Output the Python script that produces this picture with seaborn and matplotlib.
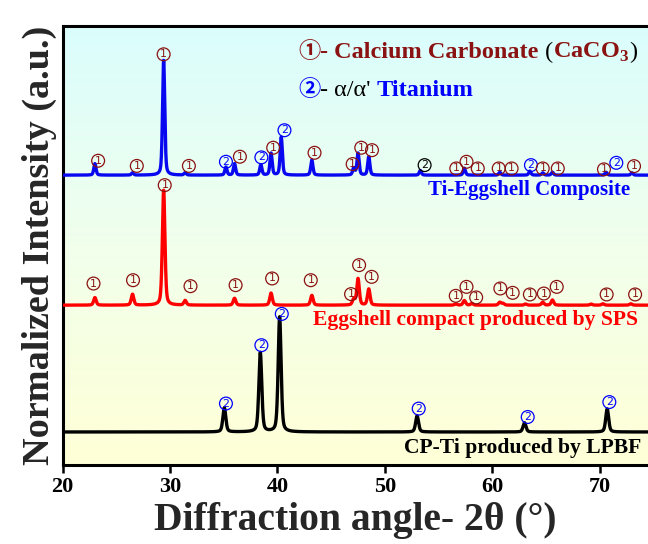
import numpy as np
import pandas as pd
import matplotlib
matplotlib.use("Agg")
import matplotlib.pyplot as plt
import seaborn as sns
from matplotlib.colors import LinearSegmentedColormap
from matplotlib.offsetbox import TextArea, HPacker, AnnotationBbox

# ---------------- data ----------------
# peak lists: 2theta position, normalized intensity (max = 1)
ti_pos = [35.05, 38.4, 40.2, 53.0, 63.0, 70.7]
ti_int = [0.21, 0.69, 1.00, 0.14, 0.08, 0.20]
ti_fwhm = 0.32

egg_pos = [23.0, 26.5, 29.4, 31.4, 36.0, 39.4, 43.2, 47.1, 47.5, 48.5, 56.6, 57.4,
           58.1, 60.7, 61.0, 63.1, 64.7, 65.6, 69.2, 70.3, 72.9]
egg_int = [0.066, 0.095, 1.00, 0.04, 0.06, 0.105, 0.085, 0.05, 0.23, 0.14, 0.01, 0.04,
           0.015, 0.025, 0.015, 0.01, 0.025, 0.045, 0.01, 0.012, 0.012]
egg_fwhm = 0.28

comp_pos = [23.0, 26.5, 29.4, 31.4, 35.2, 36.0, 38.45, 39.4, 40.35, 43.2, 47.1, 47.5,
            48.5, 53.3, 57.4, 60.7, 63.5, 64.7, 65.6, 70.6, 73.0]
comp_int = [0.10, 0.02, 1.00, 0.02, 0.07, 0.10, 0.09, 0.19, 0.33, 0.13, 0.06, 0.19,
            0.16, 0.04, 0.06, 0.025, 0.035, 0.02, 0.025, 0.025, 0.02]
comp_fwhm = 0.24

sample_names = ["CP-Ti produced by LPBF", "Eggshell compact produced by SPS",
                "Ti-Eggshell Composite"]
offsets = [0.0, 1.102, 2.232]

# phase markers: (2theta, height above baseline, phase, colour key)
ti_marks = [(35.2, 0.247, "2", "b"), (38.5, 0.754, "2", "b"), (40.4, 1.026, "2", "b"),
            (53.15, 0.203, "2", "b"), (63.3, 0.13, "2", "b"), (70.9, 0.26, "2", "b")]
egg_marks = [(22.87, 0.188, "1", "r"), (26.55, 0.217, "1", "r"), (29.5, 1.043, "1", "r"),
             (31.9, 0.165, "1", "r"), (36.1, 0.174, "1", "r"), (39.5, 0.232, "1", "r"),
             (43.1, 0.217, "1", "r"), (46.85, 0.096, "1", "r"), (47.6, 0.348, "1", "r"),
             (48.77, 0.246, "1", "r"), (56.6, 0.081, "1", "r"), (57.6, 0.159, "1", "r"),
             (58.5, 0.067, "1", "r"), (60.75, 0.145, "1", "r"), (61.9, 0.107, "1", "r"),
             (63.5, 0.093, "1", "r"), (64.8, 0.101, "1", "r"), (66.0, 0.159, "1", "r"),
             (70.65, 0.093, "1", "r"), (73.3, 0.093, "1", "r")]
comp_marks = [(23.3, 0.125, "1", "r"), (26.9, 0.08, "1", "r"), (29.4, 1.05, "1", "r"),
              (31.75, 0.08, "1", "r"), (35.2, 0.116, "2", "b"), (36.5, 0.16, "1", "r"),
              (38.5, 0.154, "2", "b"), (39.6, 0.238, "1", "r"), (40.65, 0.39, "2", "b"),
              (43.45, 0.194, "1", "r"), (47.0, 0.096, "1", "r"), (47.8, 0.238, "1", "r"),
              (48.8, 0.217, "1", "r"), (53.7, 0.087, "2", "k"), (56.65, 0.058, "1", "r"),
              (57.6, 0.116, "1", "r"), (58.65, 0.058, "1", "r"), (60.6, 0.058, "1", "r"),
              (61.8, 0.058, "1", "r"), (63.6, 0.087, "2", "b"), (64.7, 0.058, "1", "r"),
              (66.1, 0.058, "1", "r"), (70.4, 0.05, "1", "r"), (71.55, 0.107, "2", "b"),
              (73.2, 0.078, "1", "r")]

x_ticks = [20, 30, 40, 50, 60, 70]

# ---------------- build profiles ----------------
two_theta = np.linspace(20, 75, 4000)


def profile(pos, inten, fwhm):
    y = np.zeros_like(two_theta)
    for p, h in zip(pos, inten):
        g = np.exp(-4 * np.log(2) * ((two_theta - p) / fwhm) ** 2)
        l = 1.0 / (1.0 + ((two_theta - p) / (fwhm / 2)) ** 2)
        y += h * (0.6 * g + 0.4 * l)
    return y


frames = []
for name, off, (pos, inten, w) in zip(
        sample_names, offsets,
        [(ti_pos, ti_int, ti_fwhm), (egg_pos, egg_int, egg_fwhm), (comp_pos, comp_int, comp_fwhm)]):
    frames.append(pd.DataFrame({"2theta": two_theta,
                                "intensity": profile(pos, inten, w) + off,
                                "sample": name}))
df = pd.concat(frames, ignore_index=True)

# ---------------- styling ----------------
sns.set_theme(style="ticks")
plt.rcParams["font.family"] = ["Liberation Serif", "DejaVu Serif"]
plt.rcParams["mathtext.fontset"] = "custom"
plt.rcParams["mathtext.rm"] = "Liberation Serif"
plt.rcParams["mathtext.bf"] = "Liberation Serif:bold"

DARKRED = "#8B1212"
BLUE = "#0000FF"
line_colors = {sample_names[0]: "black", sample_names[1]: "#FF0000", sample_names[2]: "#0808F0"}
mark_colors = {"r": DARKRED, "b": BLUE, "k": "black"}

W, H = 648, 544
fig = plt.figure(figsize=(W / 100, H / 100), dpi=100)
left_px, top_px, bot_px = 62.7, 26, 465
ax = fig.add_axes([left_px / W, (H - bot_px) / H, (W - left_px) / W, (bot_px - top_px) / H])

ylim = (-0.287, 3.528)
xlim = (20, 74.5)

# gradient background
cmap = LinearSegmentedColormap.from_list("bg", ["#FFFFD6", "#F1FFEC", "#DAFDFD"])
ax.imshow(np.linspace(0, 1, 256).reshape(-1, 1), cmap=cmap, aspect="auto",
          extent=[xlim[0], xlim[1], ylim[0], ylim[1]], origin="lower", zorder=0)

sns.lineplot(data=df, x="2theta", y="intensity", hue="sample", palette=line_colors,
             linewidth=2.4, legend=False, ax=ax, zorder=3, estimator=None, sort=False)

for marks, off in zip([ti_marks, egg_marks, comp_marks], offsets):
    for x, y, lab, ck in marks:
        c = mark_colors[ck]
        ax.text(x, off + y, lab, ha="center", va="center", fontsize=7.8,
                family="DejaVu Sans", color=c, zorder=5,
                bbox=dict(boxstyle="circle,pad=0.13", fc="none", ec=c, lw=0.9))

# sample labels
ax.text(63.4, offsets[2] - 0.13, sample_names[2], color=BLUE, fontsize=15,
        fontweight="bold", ha="center", va="center", zorder=6)
ax.text(43.35, offsets[1] - 0.13, sample_names[1], color="#FF0000", fontsize=15.6,
        fontweight="bold", ha="left", va="center", zorder=6)
ax.text(51.8, offsets[0] - 0.14, sample_names[0], color="black", fontsize=15.6,
        fontweight="bold", ha="left", va="center", zorder=6)

ax.set_xlim(*xlim)
ax.set_ylim(*ylim)
ax.set_xticks(x_ticks)
ax.set_xticklabels([str(t) for t in x_ticks], fontsize=16, fontweight="bold")
ax.set_yticks([])
ax.tick_params(axis="x", direction="out", length=6, width=1.8, pad=3, colors="black")
for s in ["left", "bottom", "top"]:
    ax.spines[s].set_linewidth(2.2)
    ax.spines[s].set_color("black")
ax.spines["right"].set_visible(False)
ax.set_xlabel("Diffraction angle- 2θ (°)", fontsize=28.5, fontweight="bold", labelpad=3)
ax.set_ylabel("Normalized Intensity (a.u.)", fontsize=27.5, fontweight="bold", labelpad=4)

# legend-like header
def tarea(s, color, weight="bold", size=17.5, family=None):
    props = dict(color=color, fontweight=weight, fontsize=size)
    if family:
        props["family"] = family
    return TextArea(s, textprops=props)

line1 = HPacker(children=[
    tarea("①", DARKRED, weight="bold", size=16, family=["Noto Sans CJK JP"]),
    tarea("- Calcium Carbonate ", DARKRED),
    tarea("(", "black", weight="normal"),
    tarea("CaCO$_{\\mathbf{3}}$", DARKRED),
    tarea(")", "black", weight="normal"),
], align="baseline", pad=0, sep=0)
line2 = HPacker(children=[
    tarea("②", BLUE, weight="bold", size=16, family=["Noto Sans CJK JP"]),
    tarea("- α/α' ", "black", weight="normal"),
    tarea("Titanium", BLUE),
], align="baseline", pad=0, sep=0)
for box, ypx in [(line1, 52), (line2, 90)]:
    ab = AnnotationBbox(box, (298, H - ypx), xycoords="figure pixels",
                        box_alignment=(0, 0.5), frameon=False, pad=0)
    ax.add_artist(ab)

fig.savefig("out.png", dpi=100)
